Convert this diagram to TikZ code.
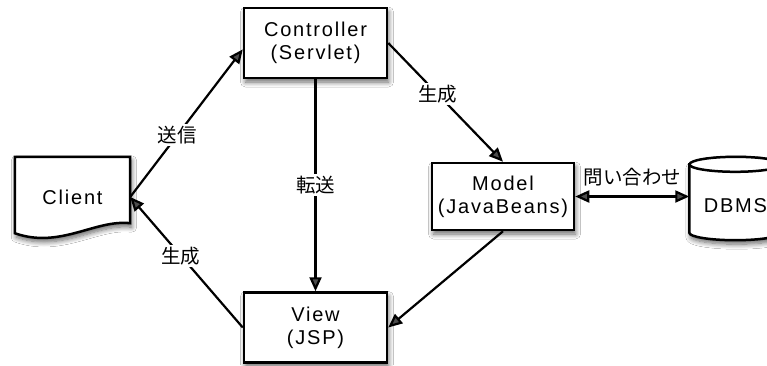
\documentclass[tikz,border=0pt]{standalone}
\usepackage{fontspec}
\setmainfont[LetterSpace=9]{Liberation Sans}
\newfontfamily\jpfont{Noto Sans CJK JP}
\usetikzlibrary{positioning,arrows.meta,shadows.blur}

\tikzset{
  shade/.style={blur shadow={shadow xshift=1.5pt, shadow yshift=-4pt,
      shadow blur steps=8, shadow blur radius=5pt, shadow opacity=60}},
  box/.style={draw, line width=2.5pt, fill=white, shade, align=center,
      minimum width=143pt, minimum height=70pt,
      font=\fontsize{20}{23}\selectfont},
  outline/.style={draw, line width=2.5pt, fill=white},
  txt/.style={inner sep=0pt, font=\fontsize{20}{23}\selectfont},
  arr/.style={line width=2.2pt, -{Triangle[length=14pt,width=12pt]}},
  biarr/.style={line width=2.2pt, {Triangle[length=14pt,width=12pt]}-{Triangle[length=14pt,width=12pt]}},
  lbl/.style={fill=white, inner sep=2pt, font=\jpfont\fontsize{19.5}{22}\selectfont},
}

\begin{document}
\begin{tikzpicture}[x=1pt, y=-1pt]

    \fill[white] (0,0) rectangle (767,365);
    \useasboundingbox (0,0) rectangle (767,365);

    % Define nodes
    \node[box]                          (ctrl)  at (315.5,43) {Controller\\(Servlet)};
    \node[box, below=212pt of ctrl]     (view)  {View\\(JSP)};
    \node[box, minimum width=142pt, minimum height=67pt] (model) at (503,196.5) {Model\\(JavaBeans)};
    \node[txt, minimum width=115pt, minimum height=80pt] (client) at (72.5,197) {};
    \node[txt, minimum width=92pt, minimum height=68pt, right=114pt of model, yshift=-9.5pt] (dbms) {};

    % Client (document) and DBMS (cylinder) outlines
    \path[outline, shade] (client.north west) -- (client.north east)
        -- ([yshift=14pt]client.south east)
        .. controls +(-35,-4) and +(45,16) .. ([yshift=4pt]client.south west) -- cycle;
    \node[txt] at (client) {Client};

    \path[outline, shade] ([yshift=7.5pt]dbms.north west) -- ([yshift=7.5pt]dbms.south west)
        arc[start angle=180, end angle=360, x radius=46pt, y radius=7.5pt]
        -- ([yshift=7.5pt]dbms.north east)
        arc[start angle=0, end angle=180, x radius=46pt, y radius=7.5pt] -- cycle;
    \draw[line width=2.5pt] ([yshift=7.5pt]dbms.north west)
        arc[start angle=180, end angle=360, x radius=46pt, y radius=7.5pt];
    \node[txt] at (dbms) {DBMS};

    % Connect the nodes
    \draw[arr] (client.east) -- (ctrl.185) node[lbl, pos=0.42] {送信};
    \draw[arr] (view.west) -- (client.east) node[lbl, pos=0.55] {生成};
    \draw[arr] (ctrl) -- (view) node[lbl, midway] {転送};
    \draw[arr] (ctrl.east) -- (model.north) node[lbl, pos=0.43] {生成};
    \draw[arr] (model.south) -- (view.east);
    \draw[biarr] (model.east) -- (model.east -| dbms.west) node[lbl, midway, above=7pt, fill=none] {問い合わせ};

\end{tikzpicture}
\end{document}
